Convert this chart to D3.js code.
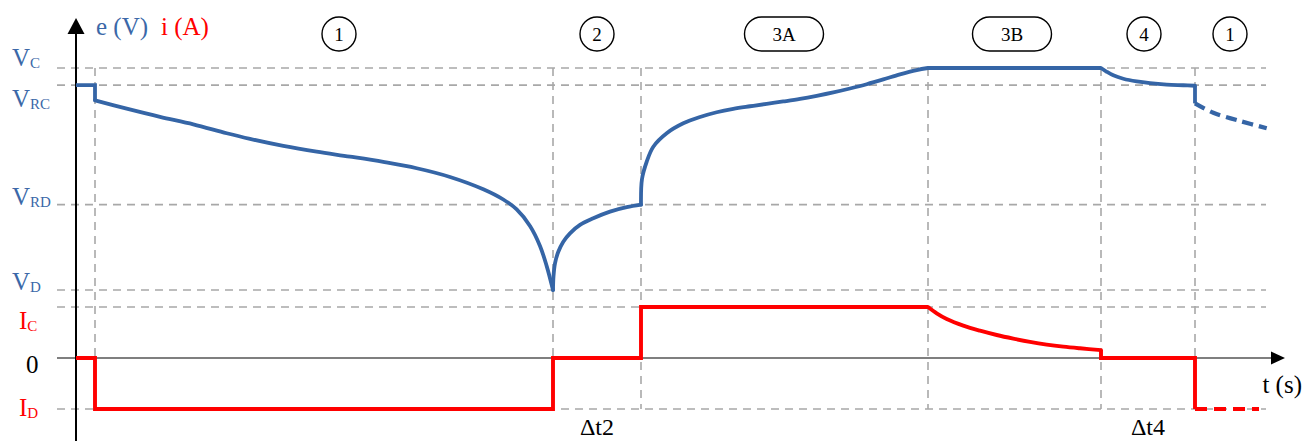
<!DOCTYPE html>
<html>
<head>
<meta charset="utf-8">
<script src="https://cdn.jsdelivr.net/npm/d3@7/dist/d3.min.js"></script>
<style>
  html, body { margin: 0; padding: 0; background: #fff; }
  svg { display: block; font-family: "Liberation Serif", "Times New Roman", serif; }
</style>
</head>
<body>
<svg id="chart" width="1304" height="441"></svg>
<script>
// ---- Data -------------------------------------------------------------
// Time (s) of the phase boundaries
const boundaries = [1.9, 47.7, 56.5, 85.2, 102.5, 111.9];

// Voltage reference levels (V) and current levels (A)
const voltageLevels = [4.2, 4.1, 3.4, 2.9];
const voltageNames  = [["V", "C"], ["V", "RC"], ["V", "RD"], ["V", "D"]];
const currentLevels = [1, 0, -1];
const currentNames  = [["I", "C"], ["0", ""], ["I", "D"]];

// Phase markers
const phaseLabels  = ["1", "2", "3A", "3B", "4", "1"];
const phaseCentres = [26.3, 52.1, 70.8, 93.6, 106.8, 115.4];

// Interval annotations
const intervalLabels = ["\u0394t2", "\u0394t4"];
const intervalSpans  = [[47.7, 56.5], [102.5, 111.9]];

// Cell voltage e(t): [t, V]
const eRest      = [[0, 4.1], [1.9, 4.1], [1.9, 4.01]];
const eDischarge = [[1.9, 4.01], [5.07, 3.962], [8.4, 3.914], [11.73, 3.87], [15.07, 3.818],
                    [17.4, 3.785], [20.73, 3.744], [24.07, 3.71], [27.4, 3.681], [30.73, 3.65],
                    [34.07, 3.613], [37.4, 3.562], [40.73, 3.49], [42.73, 3.43], [44.07, 3.372],
                    [45.4, 3.275], [46.4, 3.158], [47.07, 3.04], [47.7, 2.9]];
const eRelax     = [[47.7, 2.9], [47.75, 2.98], [47.9, 3.056], [48.23, 3.124], [48.73, 3.183],
                    [49.4, 3.232], [50.4, 3.281], [51.73, 3.32], [53.4, 3.359], [55.07, 3.385],
                    [56.5, 3.4]];
const eChargeCC  = [[56.5, 3.4], [56.6, 3.55], [57.07, 3.651], [57.73, 3.739], [59.07, 3.818],
                    [60.73, 3.876], [62.4, 3.913], [64.07, 3.941], [65.73, 3.961], [67.4, 3.976],
                    [69.07, 3.99], [70.73, 4.004], [72.4, 4.019], [74.07, 4.037], [75.73, 4.057],
                    [77.4, 4.08], [79.07, 4.105], [80.73, 4.133], [82.4, 4.163], [84.07, 4.188],
                    [85.2, 4.2]];
const eChargeCV  = [[85.2, 4.2], [102.5, 4.2]];
const eRest2     = [[102.5, 4.2], [103.07, 4.178], [103.73, 4.157], [104.73, 4.137], [106.07, 4.121],
                    [107.4, 4.111], [109.07, 4.103], [110.73, 4.099], [111.9, 4.096]];
const eStep2     = [[111.9, 4.096], [111.9, 3.993]];
const eNext      = [[111.9, 3.993], [113.73, 3.938], [116.4, 3.89], [119.07, 3.847]];

// Current i(t): [t, A]
const iSteps1 = [[0, 0], [1.9, 0], [1.9, -1], [47.7, -1], [47.7, 0], [56.5, 0], [56.5, 1], [85.2, 1]];
const iTaper  = [[85.2, 1], [86.07, 0.876], [87.07, 0.765], [88.73, 0.634], [90.4, 0.535],
                 [92.07, 0.451], [93.73, 0.38], [95.4, 0.316], [97.07, 0.263], [98.73, 0.222],
                 [100.4, 0.19], [102.5, 0.155]];
const iSteps2 = [[102.5, 0.155], [102.5, 0], [111.9, 0], [111.9, -1]];
const iNext   = [[111.9, -1], [118.3, -1]];

// ---- Layout -----------------------------------------------------------
const svg = d3.select("#chart");
const BLUE = "#3565a6", BLUE_TEXT = "#3b68a8", RED = "#ff0000";
const GRID = "#a8a8a8";

const x  = d3.scaleLinear().domain([0, 120.9]).range([76, 1285]);
const yV = d3.scaleLinear().domain([2.9, 4.2]).range([290, 68]);
const yI = d3.scaleLinear().domain([-1, 1]).range([409, 307]);

const gridLeft = 57, gridRight = 1266;

// ---- Guide lines ------------------------------------------------------
const grid = svg.append("g")
  .attr("stroke", GRID).attr("stroke-width", 1.6).attr("stroke-dasharray", "8,6").attr("fill", "none");

voltageLevels.forEach(v => grid.append("line")
  .attr("x1", gridLeft).attr("x2", gridRight).attr("y1", yV(v)).attr("y2", yV(v)));
currentLevels.filter(c => c !== 0).forEach(c => grid.append("line")
  .attr("x1", gridLeft).attr("x2", gridRight).attr("y1", yI(c)).attr("y2", yI(c)));
boundaries.forEach(t => grid.append("line")
  .attr("x1", x(t)).attr("x2", x(t)).attr("y1", yV(4.2)).attr("y2", yI(-1)));

// ---- Axes -------------------------------------------------------------
// time axis (i = 0)
svg.append("line")
  .attr("x1", gridLeft).attr("x2", 1272).attr("y1", yI(0)).attr("y2", yI(0))
  .attr("stroke", "#7f7f7f").attr("stroke-width", 2);
svg.append("path")
  .attr("d", `M${x(120.9) - 14},${yI(0) - 6.5}L${x(120.9)},${yI(0)}L${x(120.9) - 14},${yI(0) + 6.5}Z`)
  .attr("fill", "#000");

// e / i axis
svg.append("line")
  .attr("x1", x(0)).attr("x2", x(0)).attr("y1", 441).attr("y2", 32)
  .attr("stroke", "#000").attr("stroke-width", 2);
svg.append("path")
  .attr("d", `M${x(0) - 8.5},34L${x(0)},18L${x(0) + 8.5},34Z`)
  .attr("fill", "#000");

// ---- Curves -----------------------------------------------------------
const lineStep   = d3.line().x(d => x(d[0])).curve(d3.curveLinear);
const lineSmooth = d3.line().x(d => x(d[0])).curve(d3.curveCatmullRom.alpha(0.5));

function draw(data, gen, yScale, color, opts = {}) {
  svg.append("path")
    .attr("d", gen.y(d => yScale(d[1]))(data))
    .attr("fill", "none")
    .attr("stroke", color)
    .attr("stroke-width", opts.width || 3.8)
    .attr("stroke-linejoin", "miter")
    .attr("stroke-linecap", opts.cap || "butt")
    .attr("stroke-dasharray", opts.dash || null);
}

// current
draw(iSteps1, lineStep, yI, RED, { width: 3.9 });
draw(iTaper, lineSmooth, yI, RED, { width: 3.9, cap: "round" });
draw(iSteps2, lineStep, yI, RED, { width: 3.9 });
draw(iNext, lineStep, yI, RED, { width: 3.9, dash: "12,7" });

// voltage
draw(eRest, lineStep, yV, BLUE);
draw(eDischarge, lineSmooth, yV, BLUE, { cap: "round" });
draw(eRelax, lineSmooth, yV, BLUE, { cap: "round" });
draw(eChargeCC, lineSmooth, yV, BLUE, { cap: "round" });
draw(eChargeCV, lineStep, yV, BLUE);
draw(eRest2, lineSmooth, yV, BLUE, { cap: "round" });
draw(eStep2, lineStep, yV, BLUE);
draw(eNext, lineSmooth, yV, BLUE, { width: 4.3, dash: "11,6" });

// ---- Level labels -----------------------------------------------------
function levelLabel(parts, px, py, color) {
  const t = svg.append("text").attr("x", px).attr("y", py)
    .attr("fill", color).attr("font-size", 25);
  t.append("tspan").text(parts[0]);
  if (parts[1]) t.append("tspan").attr("font-size", 15).attr("dy", 2).text(parts[1]);
}
const vLabelDy = [-2, 22, 0, 0];
voltageLevels.forEach((v, k) => levelLabel(voltageNames[k], 12, yV(v) + vLabelDy[k], BLUE_TEXT));
const iLabelDy = [22, 15, 7];
const iLabelX  = [19, 26, 19];
currentLevels.forEach((c, k) => levelLabel(currentNames[k], iLabelX[k], yI(c) + iLabelDy[k], c === 0 ? "#000" : RED));

// axis titles
svg.append("text").attr("x", 96).attr("y", 35).attr("font-size", 25).attr("fill", BLUE_TEXT).text("e (V)");
svg.append("text").attr("x", 161).attr("y", 35).attr("font-size", 25).attr("fill", RED).text("i (A)");
svg.append("text").attr("x", 1302).attr("y", 393).attr("font-size", 25).attr("text-anchor", "end")
  .attr("fill", "#000").text("t (s)");

// ---- Phase markers ----------------------------------------------------
const PHASE_Y = 34, R = 17;
phaseLabels.forEach((lab, k) => {
  const cx = x(phaseCentres[k]);
  const w = lab.length > 1 ? 79 : 2 * R;
  svg.append("rect")
    .attr("x", cx - w / 2).attr("y", PHASE_Y - R).attr("width", w).attr("height", 2 * R)
    .attr("rx", R).attr("ry", R)
    .attr("fill", "#fff").attr("stroke", "#000").attr("stroke-width", 1.4);
  svg.append("text").attr("x", cx).attr("y", PHASE_Y + 6.5)
    .attr("text-anchor", "middle").attr("font-size", 19).attr("fill", "#000").text(lab);
});

// ---- Interval annotations --------------------------------------------
intervalLabels.forEach((lab, k) => {
  const [a, b] = intervalSpans[k];
  svg.append("text").attr("x", x((a + b) / 2)).attr("y", 435)
    .attr("text-anchor", "middle").attr("font-size", 24).attr("fill", "#000").text(lab);
});
</script>
</body>
</html>
